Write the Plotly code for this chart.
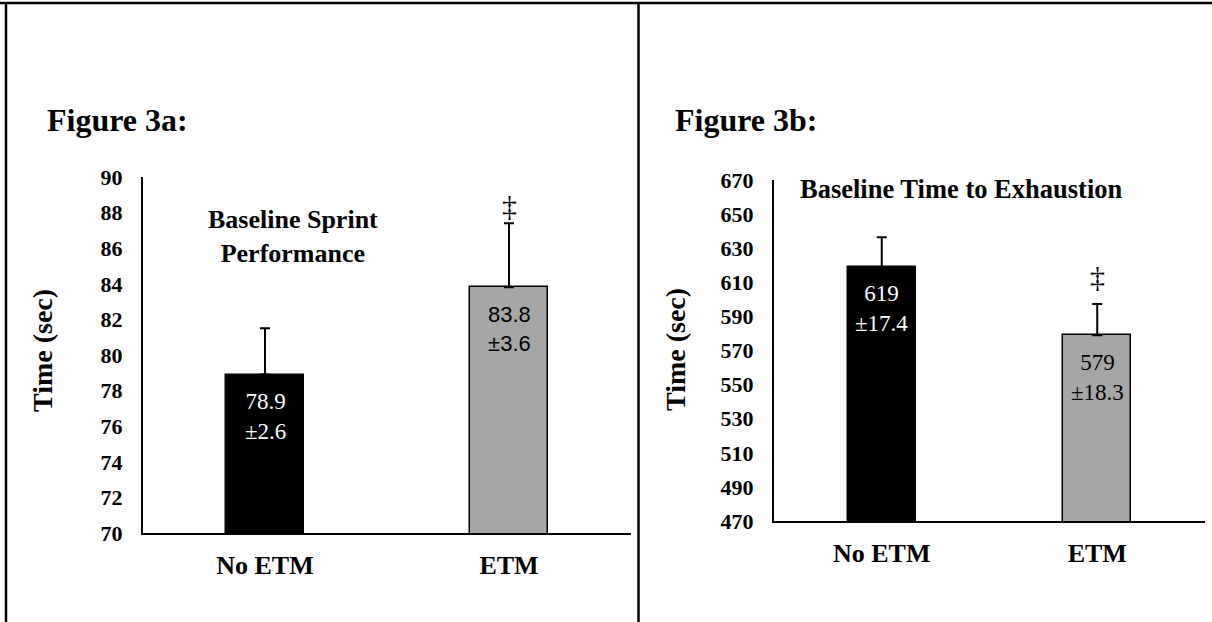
import plotly.graph_objects as go

# ---- data ----
categories = ["No ETM", "ETM"]
sprint_mean = [78.9, 83.8]
sprint_sd = [2.6, 3.6]
tte_mean = [619, 579]
tte_sd = [17.4, 18.3]
sprint_labels = ["78.9<br>±2.6", "83.8<br>±3.6"]
tte_labels = ["619<br>±17.4", "579<br>±18.3"]
bar_colors = ["#000000", "#A6A6A6"]
sprint_range = [70, 90]
tte_range = [470, 670]
sprint_ticks = list(range(70, 91, 2))
tte_ticks = list(range(470, 671, 20))

W, H = 1212, 622
SERIF = "Liberation Serif, Times New Roman, serif"
SANS = "Liberation Sans, Arial, sans-serif"


def px(x):
    return x / W


def py(y):
    return 1 - y / H


fig = go.Figure()

fig.add_trace(go.Bar(
    x=categories, y=sprint_mean, xaxis="x", yaxis="y",
    marker=dict(color=bar_colors, line=dict(color="black", width=1.5)),
    width=0.317,
    error_y=dict(type="data", symmetric=False, array=sprint_sd,
                 arrayminus=[0, 0], color="black", thickness=2, width=5),
    showlegend=False, hoverinfo="skip",
))
fig.add_trace(go.Bar(
    x=categories, y=tte_mean, xaxis="x2", yaxis="y2",
    marker=dict(color=bar_colors, line=dict(color="black", width=1.5)),
    width=0.317,
    error_y=dict(type="data", symmetric=False, array=tte_sd,
                 arrayminus=[0, 0], color="black", thickness=2, width=5),
    showlegend=False, hoverinfo="skip",
))

tickfont = dict(family=SERIF, size=22, color="black", weight="bold")
catfont = dict(family=SERIF, size=26, color="black", weight="bold")

common_x = dict(type="category", range=[-0.5, 1.5], showline=True, linecolor="black",
                linewidth=2, ticks="", showgrid=False, zeroline=False, automargin=False,
                tickfont=catfont, ticklabelstandoff=8, fixedrange=True)
common_y = dict(showline=True, linecolor="black", linewidth=2, ticks="",
                showgrid=False, zeroline=False, tickfont=tickfont, automargin=False,
                ticklabelstandoff=14, fixedrange=True)

fig.update_layout(
    width=W, height=H, autosize=False,
    margin=dict(l=0, r=0, t=0, b=0, pad=0, autoexpand=False),
    paper_bgcolor="white", plot_bgcolor="white",
    bargap=0,
    xaxis=dict(common_x, domain=[px(143), px(631)], anchor="y"),
    yaxis=dict(common_y, domain=[py(533), py(177)], anchor="x",
               range=sprint_range, tickvals=sprint_ticks),
    xaxis2=dict(common_x, domain=[px(774), px(1205)], anchor="y2"),
    yaxis2=dict(common_y, domain=[py(521), py(180)], anchor="x2",
                range=tte_range, tickvals=tte_ticks),
)

ann = []
# figure labels
ann.append(dict(text="Figure 3a:", x=px(45), y=py(120), xref="paper", yref="paper",
                xanchor="left", yanchor="middle", showarrow=False,
                font=dict(family=SERIF, size=32, color="black", weight="bold")))
ann.append(dict(text="Figure 3b:", x=px(673), y=py(120), xref="paper", yref="paper",
                xanchor="left", yanchor="middle", showarrow=False,
                font=dict(family=SERIF, size=32, color="black", weight="bold")))
# chart titles
ann.append(dict(text="Baseline Sprint<br>Performance", x=px(293), y=py(236),
                xref="paper", yref="paper", xanchor="center", yanchor="middle",
                showarrow=False,
                font=dict(family=SERIF, size=26, color="black", weight="bold")))
ann.append(dict(text="Baseline Time to Exhaustion", x=px(961), y=py(189),
                xref="paper", yref="paper", xanchor="center", yanchor="middle",
                showarrow=False,
                font=dict(family=SERIF, size=26.5, color="black", weight="bold")))
# y axis titles
ann.append(dict(text="Time (sec)", x=px(42), y=py(351), xref="paper", yref="paper",
                xanchor="center", yanchor="middle", textangle=-90, showarrow=False,
                font=dict(family=SERIF, size=28, color="black", weight="bold")))
ann.append(dict(text="Time (sec)", x=px(675), y=py(350), xref="paper", yref="paper",
                xanchor="center", yanchor="middle", textangle=-90, showarrow=False,
                font=dict(family=SERIF, size=28, color="black", weight="bold")))

# bar value labels
sprint_fonts = [dict(family=SERIF, size=23, color="white"),
                dict(family=SANS, size=22, color="black")]
tte_fonts = [dict(family=SERIF, size=23, color="white"),
             dict(family=SERIF, size=23, color="black")]
for i, c in enumerate(categories):
    ann.append(dict(text=sprint_labels[i], x=c, y=sprint_mean[i], xref="x", yref="y",
                    xanchor="center", yanchor="middle", yshift=-42, showarrow=False,
                    font=sprint_fonts[i]))
    ann.append(dict(text=tte_labels[i], x=c, y=tte_mean[i], xref="x2", yref="y2",
                    xanchor="center", yanchor="middle", yshift=-42, showarrow=False,
                    font=tte_fonts[i]))

# significance daggers
ann.append(dict(text="‡", x=categories[1], y=sprint_mean[1] + sprint_sd[1], xref="x", yref="y",
                xanchor="center", yanchor="bottom", yshift=-1, showarrow=False,
                font=dict(family=SERIF, size=30, color="black")))
ann.append(dict(text="‡", x=categories[1], y=tte_mean[1] + tte_sd[1], xref="x2", yref="y2",
                xanchor="center", yanchor="bottom", yshift=9, showarrow=False,
                font=dict(family=SERIF, size=30, color="black")))

fig.update_layout(annotations=ann)

# table-like border lines
line = dict(color="black", width=2.5)
fig.add_shape(type="line", xref="paper", yref="paper", x0=0, x1=1, y0=py(3), y1=py(3), line=line)
fig.add_shape(type="line", xref="paper", yref="paper", x0=px(6), x1=px(6), y0=0, y1=py(3), line=line)
fig.add_shape(type="line", xref="paper", yref="paper", x0=px(638.5), x1=px(638.5), y0=0, y1=py(3), line=line)

fig.write_html(
    "out.html",
    config={"displayModeBar": False},
    post_script="document.body.style.margin='0';document.body.style.overflow='hidden';",
)
